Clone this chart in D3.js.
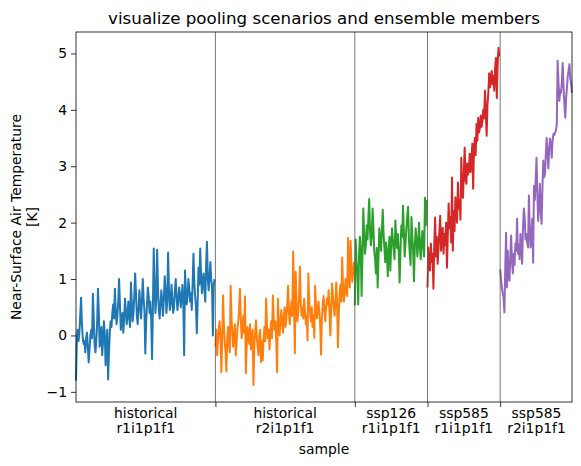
<!DOCTYPE html>
<html>
<head>
<meta charset="utf-8">
<script src="https://cdn.jsdelivr.net/npm/d3@7"></script>
<style>
  body { margin: 0; background: #fff; }
  text { font-family: "DejaVu Sans", sans-serif; }
</style>
</head>
<body>
<div id="chart"></div>
<script>
// scenario / member names for each chunk of samples
var scenarios = ['historical', 'historical', 'ssp126', 'ssp585', 'ssp585'];
var members = ['r1i1p1f1', 'r2i1p1f1', 'r1i1p1f1', 'r1i1p1f1', 'r2i1p1f1'];

// annual anomalies (K)
var histR1 = [
  -0.80, -0.05, 0.10, -0.10, 0.05, 0.35, 0.67, 0.20, -0.05, -0.15,
  -0.10, -0.30, -0.05, 0.05, -0.20, -0.48, -0.25, 0.00, 0.10, -0.05,
  0.74, 0.30, -0.15, -0.30, -0.10, 0.20, 0.83, 0.40, -0.20, -0.05,
  0.15, -0.35, -0.10, 0.25, 0.05, -0.53, -0.20, 0.10, -0.78, -0.30,
  0.05, 0.25, 0.15, 0.40, 0.55, 0.30, 0.83, 0.45, 0.20, 0.35,
  0.60, 1.00, 0.55, 0.10, 0.25, 0.40, 0.05, 0.30, 0.65, 0.45,
  0.20, 0.35, 0.60, 0.30, 0.15, 0.94, 0.60, 0.25, 0.40, 0.70,
  1.10, 0.75, 0.35, 0.20, 0.45, 0.80, 0.55, 0.30, 0.60, 1.00,
  0.65, 0.45, -0.32, 0.20, 0.55, 0.85, 0.70, 0.40, 0.60, 0.30,
  -0.42, 0.50, 1.54, 0.90, 0.40, 0.65, 1.52, 0.85, 0.45, 0.30,
  0.55, 0.80, 0.60, 0.35, 0.65, 1.05, 0.80, 0.40, 0.60, 1.47,
  0.85, 0.45, 0.55, 0.90, 0.65, 0.40, 0.50, 0.80, 1.00, 0.70,
  0.45, 0.60, 0.85, 0.75, 0.50, 0.65, 0.90, 0.55, -0.35, 1.15,
  0.80, 0.55, 0.70, 1.00, 0.85, 0.60, 0.75, 0.45, 0.90, 1.45,
  0.95, 0.70, 0.50, 0.04, 0.60, 1.20, 0.90, 1.54, 1.10, 0.75,
  0.95, 1.10, 0.80, 0.60, 1.25, 1.66, 1.00, 0.80, 1.05, 1.30,
  1.00, 0.85, 0.00, 0.90, 1.00
];
var histR2 = [
  -0.20, 0.10, -0.35, -0.10, 0.15, 0.25, -0.05, -0.65, -0.10, 0.71,
  0.20, -0.10, -0.30, -0.64, -0.05, 0.15, -0.15, -0.30, 0.88, 0.35,
  0.00, -0.20, 0.05, 0.20, -0.35, -0.15, 0.10, 0.25, 0.45, 0.83,
  0.30, -0.05, 0.10, 0.35, 0.05, 0.69, -0.67, -0.20, 0.15, 0.00,
  -0.15, 0.20, -0.25, -0.05, 0.10, -0.88, -0.20, 0.05, 0.27, -0.05,
  -0.20, -0.35, 0.00, 0.10, -0.47, -0.10, -0.44, -0.05, 0.15, -0.10,
  0.65, 0.20, -0.05, 0.10, -0.25, 0.05, 0.25, -0.05, 0.71, 0.30,
  0.10, 0.25, -0.10, -0.65, 0.65, 0.15, 0.00, 0.30, 0.45, 0.20,
  0.05, 0.35, 0.50, 0.15, 0.30, 0.55, 0.88, 0.40, 0.20, 0.45,
  0.60, 0.35, 1.49, 0.60, -0.32, 1.13, 0.55, 0.25, 0.40, 0.70,
  1.22, 0.60, 0.35, 0.50, 0.30, 0.65, 0.45, 0.20, 0.35, -0.09,
  1.10, 0.60, 0.40, 0.25, 0.50, 0.15, 0.35, -0.04, 0.88, 0.55,
  0.30, 0.45, 0.60, 0.40, 0.20, -0.34, 0.30, 0.55, 0.70, 0.45,
  0.25, 0.50, 0.65, 0.55, 0.80, 0.40, 0.00, 0.45, 0.92, 0.70,
  0.50, 0.35, 0.60, 0.94, 0.55, -0.21, 0.40, 0.75, 0.90, 0.60,
  1.38, 0.85, 0.60, 0.75, 1.00, 0.80, 0.70, 1.73, 1.20, 0.85,
  1.68, 1.25, 0.95, 1.10, 1.30
];
var ssp126R1 = [
  0.53, 1.70, 1.30, 1.10, 0.55, 1.45, 1.75, 1.50, 0.70, 1.40,
  2.25, 1.80, 1.45, 1.60, 1.95, 1.70, 2.10, 2.42, 1.85, 1.60,
  1.75, 2.25, 1.90, 1.50, 1.35, 1.10, 1.55, 0.85, 1.40, 1.90,
  1.70, 1.50, 1.85, 2.23, 1.80, 1.55, 1.30, 1.65, 1.45, 1.05,
  1.50, 1.75, 1.15, 1.60, 1.90, 1.70, 1.50, 1.35, 2.04, 1.70,
  1.55, 1.80, 1.45, 0.94, 1.50, 1.95, 1.75, 2.30, 1.85, 1.40,
  1.65, 1.90, 2.10, 2.28, 1.70, 1.45, 1.25, 2.10, 1.75, 1.50,
  0.96, 1.60, 1.90, 1.70, 1.40, 1.65, 2.00, 1.55, 1.35, 1.70,
  1.85, 1.55, 1.40, 2.44, 1.95, 2.40
];
var ssp585R1 = [
  0.85, 1.56, 1.20, 1.15, 1.63, 1.30, 1.45, 0.83, 1.60, 2.09,
  1.40, 1.75, 1.27, 1.55, 1.85, 2.12, 1.50, 1.70, 1.91, 1.45,
  1.80, 1.60, 2.00, 1.20, 1.75, 2.34, 1.90, 2.10, 1.65, 2.80,
  1.50, 2.20, 1.85, 2.45, 2.16, 2.00, 2.71, 2.25, 2.39, 2.05,
  3.15, 2.55, 2.44, 2.90, 3.33, 2.75, 2.69, 3.05, 2.85, 2.95,
  3.22, 2.90, 3.10, 3.40, 2.60, 3.30, 3.50, 3.20, 3.75, 3.45,
  3.86, 3.60, 3.68, 3.90, 3.70, 3.80, 4.00, 3.85, 4.34, 3.95,
  3.54, 4.10, 4.30, 4.65, 4.40, 4.55, 4.69, 4.45, 4.60, 4.34,
  4.75, 4.92, 4.21, 4.80, 5.10, 4.95
];
var ssp585R2 = [
  1.17, 1.00, 0.85, 0.75, 0.67, 0.41, 1.20, 1.82, 0.85, 1.50,
  1.05, 0.97, 1.40, 1.77, 1.30, 1.10, 1.45, 1.25, 1.63, 1.50,
  2.07, 1.45, 1.60, 1.35, 1.80, 1.55, 1.27, 1.90, 2.25, 2.10,
  1.70, 1.80, 1.65, 1.56, 2.48, 1.90, 1.56, 1.80, 2.07, 1.29,
  2.65, 2.40, 2.75, 3.15, 2.50, 2.03, 2.30, 2.69, 2.20, 1.98,
  2.60, 3.10, 2.80, 2.87, 3.20, 3.50, 3.25, 2.96, 3.30, 3.49,
  3.40, 3.15, 3.45, 3.57, 3.55, 3.60, 3.63, 3.75, 4.87, 4.50,
  4.16, 4.35, 4.30, 4.50, 4.83, 4.40, 4.10, 3.86, 4.20, 4.39,
  4.60, 4.70, 4.81, 4.55, 4.46, 4.30
];
var yTicks = [-1, 0, 1, 2, 3, 4, 5];
var colors = ['#1f77b4', '#ff7f0e', '#2ca02c', '#d62728', '#9467bd'];

var allSeries = [histR1, histR2, ssp126R1, ssp585R1, ssp585R2];

var width = 581;
var height = 466;
var margin = { top: 32, right: 9, bottom: 64, left: 76 };

var svg = d3.select('#chart')
  .append('svg')
  .attr('width', width)
  .attr('height', height);

// each series continues the sample count of the one before
var starts = [];
var n = 0;
allSeries.forEach(function (s) { starts.push(n); n += s.length; });
var total = n;

var x = d3.scaleLinear()
  .domain([0, total - 1])
  .range([margin.left, width - margin.right]);

var y = d3.scaleLinear()
  .domain([-1.18, 5.38])
  .range([height - margin.bottom, margin.top]);

var line = d3.line()
  .x(d => x(d.i))
  .y(d => y(d.v));

// the lines
svg.append('g')
  .selectAll('path')
  .data(allSeries)
  .join('path')
  .attr('fill', 'none')
  .attr('stroke', (d, k) => colors[k])
  .attr('stroke-width', 2)
  .attr('stroke-linejoin', 'round')
  .attr('d', (d, k) => line(d.map((v, j) => ({ i: starts[k] + j, v: v }))));

// separators between the chunks
var bounds = starts.slice(1);
svg.append('g')
  .selectAll('line')
  .data(bounds)
  .join('line')
  .attr('x1', d => x(d)).attr('x2', d => x(d))
  .attr('y1', margin.top).attr('y2', height - margin.bottom)
  .attr('stroke', '#555')
  .attr('stroke-width', 0.8);

// y axis
var yAxis = svg.append('g')
  .attr('transform', `translate(${margin.left},0)`)
  .call(d3.axisLeft(y).tickValues(yTicks).tickSize(5).tickPadding(4)
    .tickFormat(d => d < 0 ? '\u2212' + Math.abs(d) : d));
yAxis.select('.domain').remove();
yAxis.selectAll('line').attr('stroke', '#000').attr('stroke-width', 0.8);
yAxis.selectAll('text').attr('font-size', '13.9px').attr('fill', '#000')
  .attr('font-family', 'DejaVu Sans');

// x axis: ticks only on the boundaries, labels in the middle of each chunk
var xAxis = svg.append('g')
  .attr('transform', `translate(0,${height - margin.bottom})`)
  .call(d3.axisBottom(x).tickValues(bounds).tickSize(5).tickFormat(''));
xAxis.select('.domain').remove();
xAxis.selectAll('line').attr('stroke', '#000').attr('stroke-width', 0.8);

var labels = svg.append('g')
  .selectAll('text')
  .data(allSeries)
  .join('text')
  .attr('text-anchor', 'middle')
  .attr('font-size', '13.9px')
  .attr('transform', (d, k) => {
    var mid = (starts[k] + starts[k] + d.length) / 2;
    return `translate(${x(mid)},${height - margin.bottom + 16})`;
  });
labels.append('tspan').attr('x', 0).attr('y', 0).text((d, k) => scenarios[k]);
labels.append('tspan').attr('x', 0).attr('y', 15).text((d, k) => members[k]);

// frame
svg.append('rect')
  .attr('x', margin.left)
  .attr('y', margin.top)
  .attr('width', width - margin.left - margin.right)
  .attr('height', height - margin.top - margin.bottom)
  .attr('fill', 'none')
  .attr('stroke', '#000')
  .attr('stroke-width', 0.8);

// title and axis titles
svg.append('text')
  .attr('x', (margin.left + width - margin.right) / 2)
  .attr('y', 24)
  .attr('text-anchor', 'middle')
  .attr('font-size', '16.7px')
  .text('visualize pooling scenarios and ensemble members');

svg.append('text')
  .attr('x', (margin.left + width - margin.right) / 2)
  .attr('y', 454)
  .attr('text-anchor', 'middle')
  .attr('font-size', '13.9px')
  .text('sample');

var ylab = svg.append('text')
  .attr('text-anchor', 'middle')
  .attr('font-size', '13.9px')
  .attr('transform', `translate(21,${(margin.top + height - margin.bottom) / 2}) rotate(-90)`);
ylab.append('tspan').attr('x', 0).attr('y', 0).text('Near-Surface Air Temperature');
ylab.append('tspan').attr('x', 0).attr('y', 16).text('[K]');
</script>
</body>
</html>
